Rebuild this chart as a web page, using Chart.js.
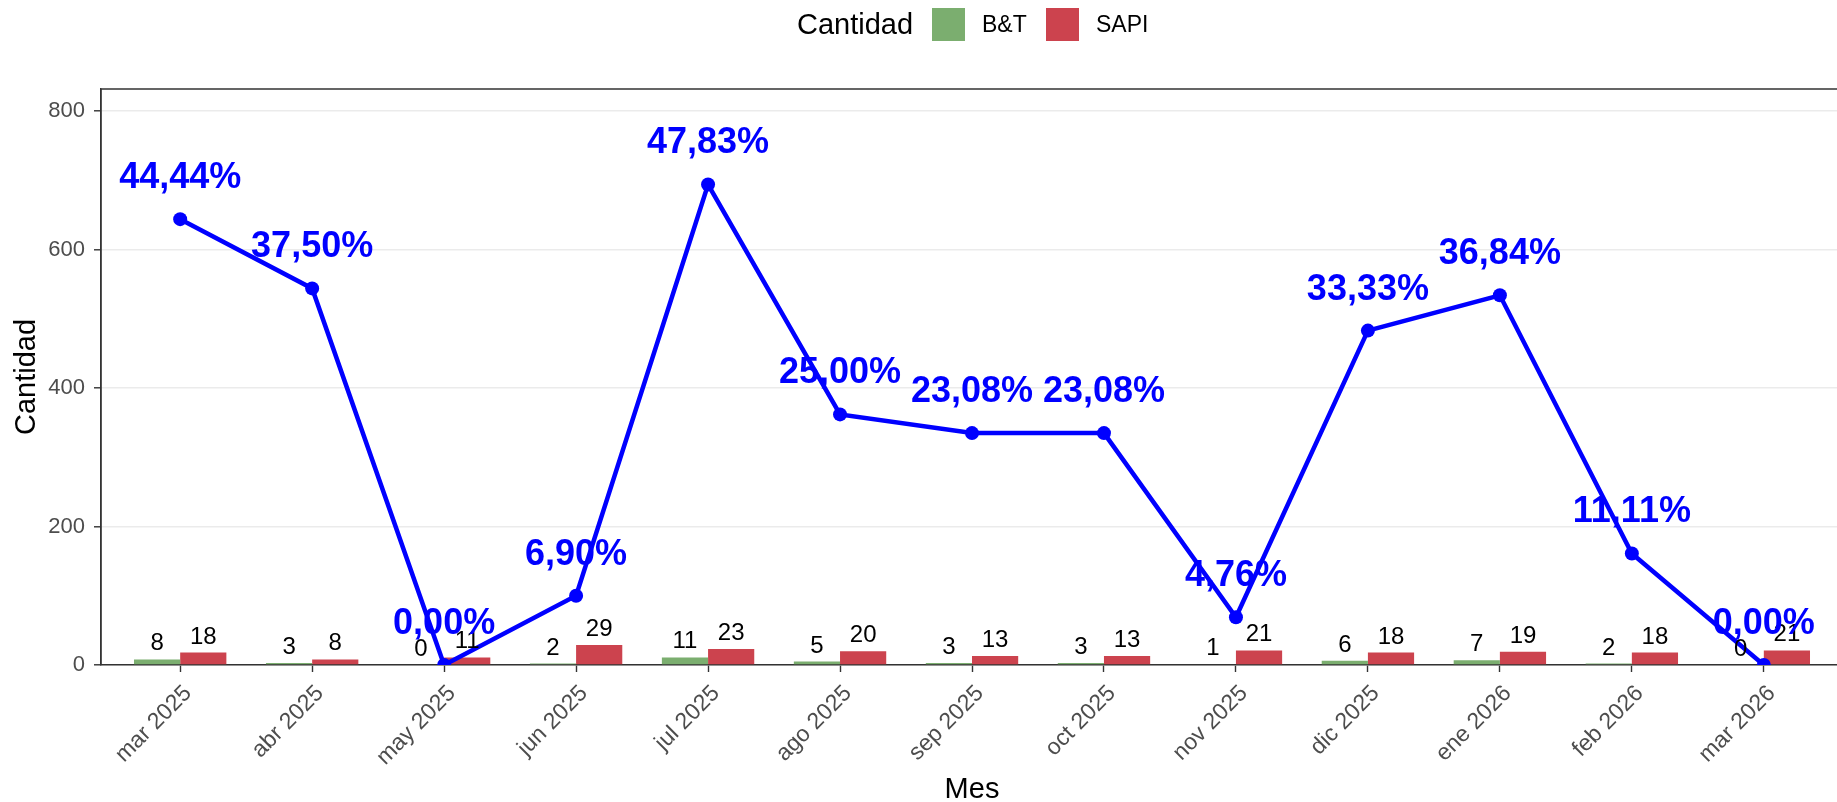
<!DOCTYPE html>
<html>
<head>
<meta charset="utf-8">
<script src="https://cdn.jsdelivr.net/npm/chart.js@4"></script>
<style>
  html, body { margin: 0; padding: 0; background: #fff; overflow: hidden; }
  canvas { display: block; }
</style>
</head>
<body>
<canvas id="myChart" width="1850" height="802"></canvas>
<script>
var meses = ['mar 2025','abr 2025','may 2025','jun 2025','jul 2025','ago 2025','sep 2025',
             'oct 2025','nov 2025','dic 2025','ene 2026','feb 2026','mar 2026']
var bt   = [8, 3, 0, 2, 11, 5, 3, 3, 1, 6, 7, 2, 0]
var sapi = [18, 8, 11, 29, 23, 20, 13, 13, 21, 18, 19, 18, 21]
// line as drawn in the picture (left axis units) and its labels
var linea = [644, 544, 0, 100, 694, 362, 335, 335, 69, 483, 534, 161, 0]
var pct = ['44,44%','37,50%','0,00%','6,90%','47,83%','25,00%','23,08%','23,08%',
           '4,76%','33,33%','36,84%','11,11%','0,00%']
var yTicks = [0, 200, 400, 600, 800]

var verde = '#7BAE6F'
var rojo = '#CC434E'
var fuente = "'Liberation Sans', Arial, sans-serif"

function puntos(arr) {
  return arr.map(function (v, i) { return { x: i, y: v } })
}

var extras = {
  id: 'extras',
  beforeDatasetsDraw: function (chart) {
    var ctx = chart.ctx, a = chart.chartArea
    ctx.save()
    ctx.strokeStyle = '#333333'
    ctx.lineWidth = 1.4
    ctx.beginPath()
    ctx.moveTo(a.left, a.bottom)
    ctx.lineTo(a.left, a.top)
    ctx.lineTo(a.right, a.top)
    ctx.lineTo(a.right, a.bottom)
    ctx.stroke()
    ctx.restore()
  },
  afterDatasetsDraw: function (chart) {
    var ctx = chart.ctx
    ctx.save()
    // bar numbers
    ctx.fillStyle = '#000'
    ctx.font = '24px ' + fuente
    ctx.textAlign = 'center'
    ctx.textBaseline = 'alphabetic'
    ;[0, 1].forEach(function (d) {
      var vals = d === 0 ? bt : sapi
      chart.getDatasetMeta(d).data.forEach(function (el, i) {
        ctx.fillText(String(vals[i]), el.x, el.y - 9)
      })
    })
    // percent labels
    ctx.fillStyle = '#0000FF'
    ctx.font = 'bold 36px ' + fuente
    ctx.textBaseline = 'middle'
    chart.getDatasetMeta(2).data.forEach(function (el, i) {
      ctx.fillText(pct[i], el.x, el.y - 41)
    })
    ctx.restore()
  },
  afterDraw: function (chart) {
    var ctx = chart.ctx
    ctx.save()
    ctx.textBaseline = 'middle'
    ctx.textAlign = 'left'
    ctx.fillStyle = '#000'
    ctx.font = '29px ' + fuente
    ctx.fillText('Cantidad', 797, 26)
    ctx.fillStyle = verde
    ctx.fillRect(932, 8, 33, 33)
    ctx.fillStyle = rojo
    ctx.fillRect(1046, 8, 33, 33)
    ctx.fillStyle = '#000'
    ctx.font = '23px ' + fuente
    ctx.fillText('B&T', 982, 26)
    ctx.fillText('SAPI', 1096, 26)
    ctx.restore()
  }
}

var data = {
  datasets: [
    { type: 'bar', label: 'B&T', data: puntos(bt), backgroundColor: verde, order: 2,
      categoryPercentage: 0.7, barPercentage: 1.0 },
    { type: 'bar', label: 'SAPI', data: puntos(sapi), backgroundColor: rojo, order: 2,
      categoryPercentage: 0.7, barPercentage: 1.0 },
    { type: 'line', label: 'pct', data: puntos(linea), borderColor: '#0000FF', backgroundColor: '#0000FF',
      borderWidth: 4.5, pointRadius: 7, pointBackgroundColor: '#0000FF', pointBorderWidth: 0,
      tension: 0, order: 1 }
  ]
}

const config = {
  type: 'bar',
  data,
  options: {
    responsive: false,
    animation: false,
    devicePixelRatio: 1,
    layout: { padding: { top: 89, right: 6, left: 0, bottom: 0 } },
    plugins: { legend: { display: false }, tooltip: { enabled: false } },
    scales: {
      x: {
        type: 'linear', min: -0.6, max: 12.6, offset: false,
        afterFit: function (s) { s.height = 137 },
        afterBuildTicks: function (s) { s.ticks = meses.map(function (m, i) { return { value: i } }) },
        ticks: {
          autoSkip: false, includeBounds: false, minRotation: 45, maxRotation: 45, padding: 8, labelOffset: 8,
          color: '#4D4D4D', font: { family: fuente, size: 23 },
          callback: function (v) { return meses[v] }
        },
        grid: { offset: false, drawOnChartArea: false, tickLength: 7, tickColor: '#333333', tickWidth: 1.4 },
        border: { color: '#333333', width: 1.4 },
        title: { display: true, text: 'Mes', color: '#000', font: { family: fuente, size: 29 },
                 padding: { top: 0, bottom: -5 } }
      },
      y: {
        min: 0, max: 832,
        afterFit: function (s) { s.width = 101 },
        afterBuildTicks: function (s) { s.ticks = yTicks.map(function (v) { return { value: v } }) },
        ticks: { includeBounds: false, padding: 9, color: '#4D4D4D', font: { family: fuente, size: 22 } },
        grid: { color: '#EBEBEB', lineWidth: 1.6, tickLength: 7, tickColor: '#333333', tickWidth: 1.4 },
        border: { color: '#333333', width: 1.4 },
        title: { display: true, text: 'Cantidad', color: '#000', font: { family: fuente, size: 29 },
                 padding: { top: 10, bottom: 0 } }
      }
    }
  },
  plugins: [extras]
}

var myChart = new Chart(document.getElementById('myChart'), config)
</script>
</body>
</html>
